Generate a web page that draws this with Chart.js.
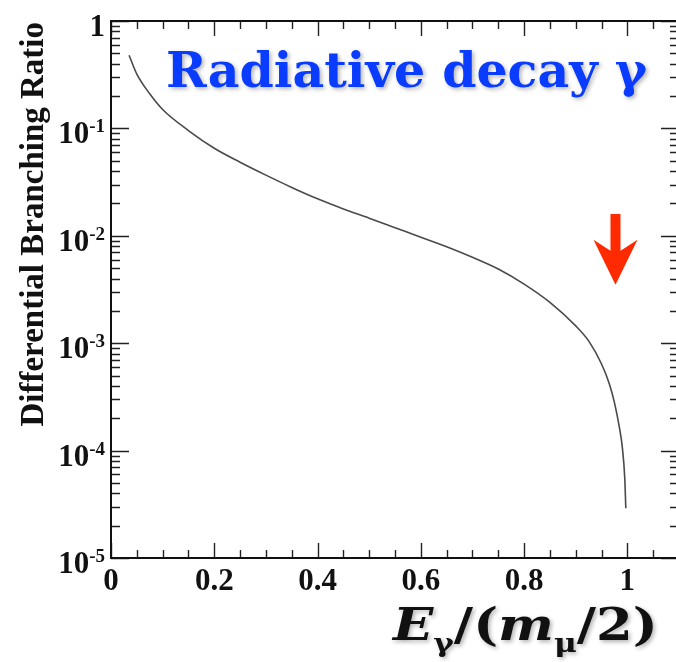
<!DOCTYPE html>
<html>
<head>
<meta charset="utf-8">
<script src="https://cdn.jsdelivr.net/npm/chart.js@4"></script>
<style>
  html, body { margin: 0; padding: 0; background: #fff; overflow: hidden; }
  #wrap { position: relative; width: 690px; height: 662px; }
</style>
</head>
<body>
<div id="wrap"><canvas id="spectrum" width="690" height="662"></canvas></div>
<script>
  // Photon energy E_gamma in units of m_mu/2
  const energy = [0.035, 0.05, 0.075, 0.1, 0.15, 0.2, 0.25, 0.3, 0.35, 0.4,
                  0.45, 0.5, 0.55, 0.6, 0.65, 0.7, 0.75, 0.8, 0.85, 0.9,
                  0.925, 0.95, 0.965, 0.975, 0.985, 0.99, 0.995, 0.997];
  // Differential branching ratio at each energy
  const branchingRatio = [0.48, 0.32, 0.21, 0.15, 0.0955, 0.0653, 0.0484, 0.0367, 0.0282, 0.0221,
                          0.0178, 0.0146, 0.0119, 0.0097, 0.0079, 0.0063, 0.0049, 0.00355, 0.0024, 0.00145,
                          0.00105, 0.00064, 0.00042, 0.00028, 0.00016, 0.00011, 0.000055, 0.000029];

  const xTickValues = [0, 0.2, 0.4, 0.6, 0.8, 1];
  const xTickLabels = ['0', '0.2', '0.4', '0.6', '0.8', '1'];
  const yTickValues = [1, 1e-1, 1e-2, 1e-3, 1e-4, 1e-5];
  const yTickBase = ['1', '10', '10', '10', '10', '10'];
  const yTickExp = ['', '-1', '-2', '-3', '-4', '-5'];

  const titleText = 'Radiative decay \u03b3';
  const yTitleText = 'Differential Branching Ratio';
  // x-axis title pieces: [text, italic, subscript]
  const xTitleParts = [['E', true, false], ['\u03b3', false, true], ['/(', false, false],
                       ['m', true, false], ['\u03bc', false, true], ['/2)', false, false]];

  // marker arrow near the spectrum endpoint (energy, from, to)
  const arrowX = 0.977;
  const arrowFrom = 0.016;
  const arrowTo = 0.0035;

  const TICK_FONT = 'bold 31px "Liberation Serif"';

  // ROOT-style frame: inward ticks on all four sides, labels, titles, arrow
  const framePlugin = {
    id: 'framePlugin',
    afterDatasetsDraw(chart) {
      const { ctx, chartArea: a, scales } = chart;
      const x = scales.x, y = scales.y;
      ctx.save();

      // ticks
      ctx.strokeStyle = '#222';
      ctx.lineWidth = 1.4;
      ctx.beginPath();
      for (let i = 0; i <= 22; i++) {
        const px = Math.round(x.getPixelForValue(i * 0.05)) + 0.5;
        const len = i % 4 === 0 ? 15 : 8;
        ctx.moveTo(px, a.bottom); ctx.lineTo(px, a.bottom - len);
        ctx.moveTo(px, a.top); ctx.lineTo(px, a.top + len);
      }
      for (let d = -5; d <= 0; d++) {
        for (let k = 1; k <= 9; k++) {
          const v = k * Math.pow(10, d);
          if (v > 1.0001) break;
          const py = Math.round(y.getPixelForValue(v)) + 0.5;
          const len = k === 1 ? 18 : 9;
          ctx.moveTo(a.left, py); ctx.lineTo(a.left + len, py);
          ctx.moveTo(a.right, py); ctx.lineTo(a.right - len, py);
        }
      }
      ctx.stroke();

      // frame
      ctx.strokeStyle = '#111';
      ctx.lineWidth = 2;
      ctx.strokeRect(a.left, a.top, a.right - a.left, a.bottom - a.top);

      // x tick labels
      ctx.fillStyle = '#111';
      ctx.font = TICK_FONT;
      ctx.textAlign = 'center';
      ctx.textBaseline = 'alphabetic';
      xTickValues.forEach((v, i) => {
        ctx.fillText(xTickLabels[i], x.getPixelForValue(v), a.bottom + 32);
      });

      // y tick labels with superscript exponents
      ctx.textAlign = 'right';
      yTickValues.forEach((v, i) => {
        const py = y.getPixelForValue(v);
        let right = a.left - 6;
        if (yTickExp[i]) {
          ctx.font = 'bold 19px "Liberation Serif"';
          ctx.fillText(yTickExp[i], right, py + 4);
          right -= ctx.measureText(yTickExp[i]).width;
        }
        ctx.font = TICK_FONT;
        ctx.fillText(yTickBase[i], right, py + 15);
      });

      // y title
      ctx.save();
      ctx.translate(43, a.top + 1);
      ctx.rotate(-Math.PI / 2);
      ctx.font = 'bold 33px "Liberation Serif"';
      ctx.textAlign = 'right';
      ctx.fillText(yTitleText, 0, 0);
      ctx.restore();

      // shadowed titles
      ctx.shadowColor = 'rgba(0,0,0,0.3)';
      ctx.shadowBlur = 4;
      ctx.shadowOffsetX = 2;
      ctx.shadowOffsetY = 2;

      ctx.textAlign = 'left';
      ctx.fillStyle = '#0a3cff';
      ctx.font = 'bold 49px "DejaVu Serif"';
      ctx.fillText(titleText, 166, 87);

      // x title, a wide face: stretch the glyphs sideways
      ctx.save();
      ctx.translate(393, 0);
      ctx.scale(1.2, 1);
      ctx.fillStyle = '#111';
      let cx = 0;
      xTitleParts.forEach(([t, italic, sub]) => {
        ctx.font = (italic ? 'italic ' : '') + 'bold ' + (sub ? '26px' : '44px') + ' "DejaVu Serif"';
        ctx.fillText(t, cx, sub ? 652 : 640);
        cx += ctx.measureText(t).width;
      });
      ctx.restore();

      // red arrow
      ctx.shadowColor = 'transparent';
      const ax = x.getPixelForValue(arrowX);
      const ay0 = y.getPixelForValue(arrowFrom);
      const ay1 = y.getPixelForValue(arrowTo);
      ctx.fillStyle = '#ff2a00';
      ctx.beginPath();
      ctx.moveTo(ax - 5, ay0);
      ctx.lineTo(ax + 5, ay0);
      ctx.lineTo(ax + 5, ay1 - 34);
      ctx.lineTo(ax + 22, ay1 - 45);
      ctx.lineTo(ax, ay1);
      ctx.lineTo(ax - 22, ay1 - 45);
      ctx.lineTo(ax - 5, ay1 - 34);
      ctx.closePath();
      ctx.fill();

      ctx.restore();
    }
  };

  new Chart(document.getElementById('spectrum'), {
    type: 'line',
    data: {
      datasets: [{
        data: energy.map((e, i) => ({ x: e, y: branchingRatio[i] })),
        borderColor: '#4a4a4a',
        borderWidth: 1.6,
        pointRadius: 0,
        cubicInterpolationMode: 'monotone',
        fill: false
      }]
    },
    options: {
      responsive: false,
      devicePixelRatio: 1,
      animation: false,
      layout: { padding: { left: 111, top: 21, right: 11, bottom: 104 } },
      plugins: { legend: { display: false }, tooltip: { enabled: false } },
      scales: {
        x: { type: 'linear', min: 0, max: 1.1, display: false },
        y: { type: 'logarithmic', min: 1e-5, max: 1, display: false }
      }
    },
    plugins: [framePlugin]
  });
</script>
</body>
</html>
